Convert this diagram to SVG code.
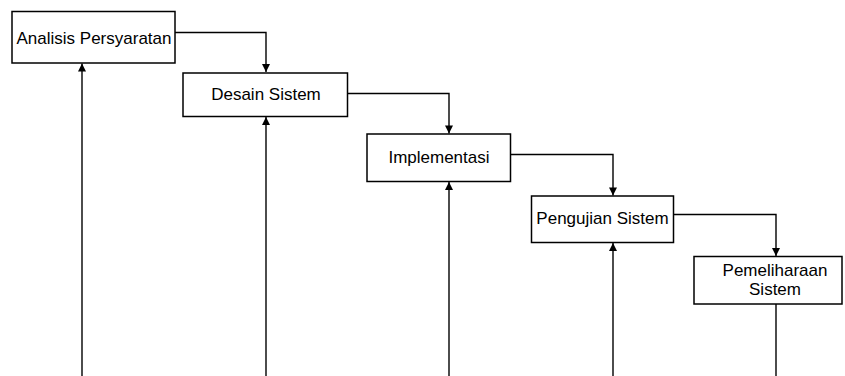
<svg xmlns="http://www.w3.org/2000/svg" width="845" height="376" viewBox="0 0 845 376">
<defs>
<style>
.box{fill:#fff;stroke:#000;stroke-width:1.5}
.lbl{font-family:"Liberation Sans",Arial,sans-serif;font-size:17px;fill:#000;text-anchor:middle}
.con{fill:none;stroke:#000;stroke-width:1.4}
</style>
<marker id="arr" viewBox="0 0 10 10" refX="10" refY="5" markerWidth="11" markerHeight="8" markerUnits="userSpaceOnUse" orient="auto">
<path d="M0,0 L10,5 L0,10 z" fill="#000"/>
</marker>
</defs>
<rect width="845" height="376" fill="#fff"/>
<g id="connectors">
<path class="con" d="M175,32.5 H266 V72" marker-end="url(#arr)"/>
<path class="con" d="M347.5,93.5 H449 V133.5" marker-end="url(#arr)"/>
<path class="con" d="M510.5,154.5 H613 V195.5" marker-end="url(#arr)"/>
<path class="con" d="M673.5,214.5 H776 V256" marker-end="url(#arr)"/>
<path class="con" d="M82,376 V63.5" marker-end="url(#arr)"/>
<path class="con" d="M266,376 V117" marker-end="url(#arr)"/>
<path class="con" d="M449,376 V182" marker-end="url(#arr)"/>
<path class="con" d="M613,376 V243" marker-end="url(#arr)"/>
<path class="con" d="M776,304 V376"/>
</g>
<g id="n1">
<rect class="box" x="12" y="11.5" width="163" height="51.5"/>
<text class="lbl" x="94" y="43.5">Analisis Persyaratan</text>
</g>
<g id="n2">
<rect class="box" x="183" y="73" width="164.5" height="43.5"/>
<text class="lbl" x="266" y="99.5">Desain Sistem</text>
</g>
<g id="n3">
<rect class="box" x="367" y="134" width="143.5" height="47.5"/>
<text class="lbl" x="439" y="162.5">Implementasi</text>
</g>
<g id="n4">
<rect class="box" x="531.5" y="196" width="142" height="46.5"/>
<text class="lbl" x="602.5" y="223.5">Pengujian Sistem</text>
</g>
<g id="n5">
<rect class="box" x="694" y="256.5" width="148" height="47.5"/>
<text class="lbl" x="775" y="276">Pemeliharaan</text>
<text class="lbl" x="775" y="294.5">Sistem</text>
</g>
</svg>
